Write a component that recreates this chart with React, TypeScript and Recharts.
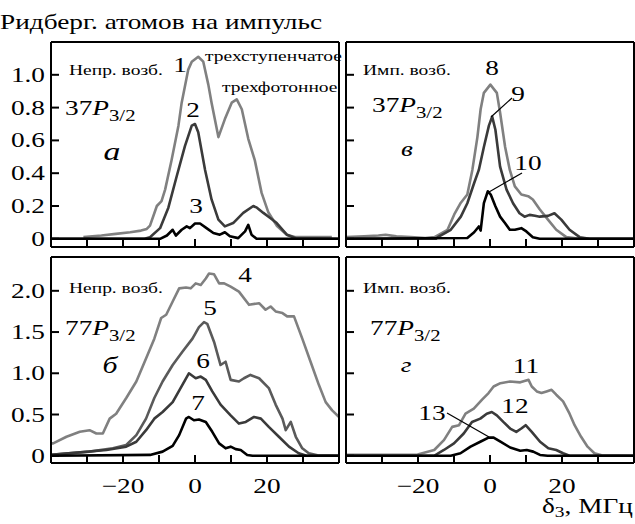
import { LineChart, Line, XAxis, YAxis } from 'recharts'

const FONT = '"Liberation Serif", "Times New Roman", serif'
const SX = 1.3
const LIGHT = '#808080'
const MID = '#5a5a5a'
const DARK = '#3a3a3a'
const BLACK = '#000000'

const X_DOMAIN: [number, number] = [-40, 40]
const X_TICKS = [-30, -20, -10, 0, 10, 20, 30]
const X_LABELS = [-20, 0, 20]
const Y_TICKS_TOP = [0, 0.2, 0.4, 0.6, 0.8, 1.0]
const Y_TICKS_BOTTOM = [0, 0.5, 1.0, 1.5, 2.0]

// panel a: 37P3/2, непрерывное возбуждение
const c1X = [-31, -26, -22, -18, -15, -13.4, -12.5, -10.6, -9.3, -8.3, -6.5, -4.6, -3.7, -1.9, -0.9, 0.9, 2.3, 3.7, 4.6, 6.5, 8.3, 10.2, 11.6, 13, 14.8, 16.6, 18.5, 20.4, 22.7, 25.5, 28, 33, 38]
const c1Y = [0.01, 0.02, 0.03, 0.04, 0.05, 0.06, 0.08, 0.2, 0.23, 0.3, 0.48, 0.69, 0.83, 1.03, 1.08, 1.11, 1.08, 0.94, 0.83, 0.62, 0.73, 0.83, 0.85, 0.79, 0.61, 0.48, 0.28, 0.16, 0.08, 0.025, 0.01, 0.01, 0.01]
const c2X = [-40, -14, -12.5, -9.7, -7.4, -5.1, -2.8, -0.9, 0, 0.9, 2.8, 4.6, 6.5, 8.3, 10.6, 13.4, 16.2, 17.2, 19, 20.8, 22.7, 25.5, 28, 40]
const c2Y = [0, 0, 0.01, 0.065, 0.19, 0.38, 0.565, 0.69, 0.7, 0.65, 0.42, 0.24, 0.117, 0.076, 0.096, 0.158, 0.2, 0.19, 0.158, 0.128, 0.096, 0.025, 0.003, 0]
const c3X = [-40, -9.7, -7.8, -6.2, -5.3, -3.7, -2.3, -1.4, 0, 1.4, 3.2, 5.1, 6.9, 8.3, 9.7, 12, 13.9, 14.8, 15.7, 17.1, 40]
const c3Y = [0, 0, 0.02, 0.055, 0.02, 0.055, 0.076, 0.065, 0.093, 0.093, 0.065, 0.035, 0.025, 0.04, 0.015, 0.004, 0.045, 0.085, 0.025, 0, 0]

// panel в: 37P3/2, импульсное возбуждение
const c8X = [-40, -35, -31, -29, -26, -22, -18, -15.4, -11.8, -9.9, -8.1, -6.3, -4.9, -3.5, -2.6, -1.7, 0.1, 1.9, 2.8, 4.2, 5.5, 6.9, 8.7, 10.6, 11.9, 13.8, 16.1, 18.4, 21.2, 25, 40]
const c8Y = [0.01, 0.015, 0.02, 0.025, 0.015, 0.01, 0.005, 0.01, 0.055, 0.15, 0.22, 0.27, 0.42, 0.62, 0.79, 0.89, 0.94, 0.89, 0.77, 0.56, 0.42, 0.32, 0.27, 0.26, 0.24, 0.18, 0.117, 0.055, 0.01, 0, 0]
const c9X = [-40, -15, -14.5, -10.9, -8.1, -6.3, -4.4, -3.1, -1.7, -0.3, 0.6, 1.5, 2.8, 4.6, 6.4, 8.2, 9.6, 11, 12.5, 13.8, 16.1, 17.9, 19.8, 22.1, 24.9, 27.7, 40]
const c9Y = [0, 0, 0.01, 0.055, 0.135, 0.217, 0.34, 0.42, 0.56, 0.69, 0.745, 0.665, 0.44, 0.3, 0.217, 0.156, 0.135, 0.146, 0.14, 0.135, 0.14, 0.156, 0.117, 0.055, 0.01, 0, 0]
const c10X = [-40, -6.3, -4.4, -3.1, -2.6, -1.7, -0.6, 0.2, 1.5, 2.8, 4.2, 5.5, 6.9, 8.7, 10.1, 11.9, 13.8, 40]
const c10Y = [0, 0.005, 0.04, 0.075, 0.05, 0.217, 0.29, 0.27, 0.198, 0.135, 0.095, 0.055, 0.055, 0.065, 0.045, 0.01, 0, 0]

// panel б: 77P3/2, непрерывное возбуждение
const c4X = [-40, -39.4, -35.7, -32, -29.3, -27.4, -25.6, -23.7, -21.9, -19.1, -16.3, -13.6, -11.3, -9.4, -8, -6.2, -4.4, -2.5, -1.2, 0.2, 1.6, 3, 3.9, 5.3, 6.7, 8.1, 9.9, 12.2, 15, 17.8, 19.6, 21, 22.4, 24.3, 25.6, 27.5, 29.8, 32.1, 34.4, 36.3, 38.1, 40]
const c4Y = [0.15, 0.15, 0.23, 0.29, 0.31, 0.27, 0.27, 0.45, 0.51, 0.7, 0.9, 1.18, 1.42, 1.67, 1.71, 1.87, 2.03, 2.04, 2.03, 2.09, 2.07, 2.15, 2.21, 2.2, 2.09, 2.09, 2.05, 1.99, 1.83, 1.85, 1.77, 1.81, 1.75, 1.73, 1.69, 1.69, 1.42, 1.14, 0.86, 0.65, 0.55, 0.47]
const c5X = [-40, -29.3, -22.8, -19.1, -16.3, -13.6, -11.3, -9, -6.2, -3.5, -0.7, 1.1, 2.5, 3.4, 5.3, 7.1, 8.5, 9.9, 12.2, 13.6, 15.4, 17.8, 20.5, 22.4, 24.3, 25.2, 26.6, 28, 29.8, 31.6, 34, 40]
const c5Y = [0.01, 0.05, 0.09, 0.13, 0.25, 0.45, 0.7, 0.9, 1.1, 1.26, 1.42, 1.56, 1.62, 1.6, 1.38, 1.1, 1.14, 0.92, 0.9, 0.94, 0.98, 0.94, 0.82, 0.62, 0.45, 0.31, 0.41, 0.23, 0.09, 0.03, 0.005, 0]
const c6X = [-40, -24.6, -19.1, -16.3, -13.6, -11.3, -9, -6.2, -3.5, -1.7, 0.2, 1.6, 3, 4.8, 7.1, 9.9, 12.2, 14.1, 16.4, 18.3, 20.5, 23.3, 26.1, 28.8, 31, 40]
const c6Y = [0.01, 0.07, 0.11, 0.17, 0.31, 0.45, 0.53, 0.65, 0.86, 1.0, 0.94, 0.96, 0.92, 0.78, 0.62, 0.49, 0.39, 0.41, 0.47, 0.45, 0.35, 0.23, 0.11, 0.03, 0, 0]
const c7X = [-40, -12.5, -9, -6.2, -4.4, -2.5, -1.7, -0.3, 1.1, 3, 4.8, 6.7, 8.5, 9.9, 11.3, 12.7, 14.5, 16, 40]
const c7Y = [0, 0.01, 0.05, 0.12, 0.25, 0.45, 0.47, 0.43, 0.44, 0.41, 0.29, 0.15, 0.09, 0.11, 0.08, 0.07, 0.01, 0, 0]

// panel г: 77P3/2, импульсное возбуждение
const c11X = [-40, -25, -20.1, -15.5, -12.8, -10.5, -8.6, -6.8, -4.5, -2.2, -0.4, 1, 2.9, 5.6, 8.4, 9.8, 10.7, 11.6, 13, 14.3, 15.7, 17.1, 18.4, 20.3, 22.1, 23.5, 25.3, 27.1, 29, 31, 40]
const c11Y = [0.01, 0.01, 0.015, 0.07, 0.19, 0.35, 0.37, 0.51, 0.57, 0.68, 0.76, 0.84, 0.88, 0.9, 0.89, 0.91, 0.92, 0.84, 0.78, 0.76, 0.78, 0.8, 0.74, 0.66, 0.51, 0.37, 0.23, 0.11, 0.03, 0.005, 0]
const c12X = [-40, -15.5, -12.8, -10, -7.3, -5, -2.7, -0.9, 0.5, 1.9, 3.7, 5.6, 7.3, 8.7, 9.9, 11.6, 13.9, 16.2, 18.4, 20.3, 22.1, 40]
const c12Y = [0, 0, 0.07, 0.15, 0.27, 0.41, 0.45, 0.51, 0.53, 0.49, 0.41, 0.33, 0.29, 0.33, 0.37, 0.29, 0.17, 0.09, 0.07, 0.03, 0, 0]
const c13X = [-40, -10.9, -8.2, -5.4, -2.7, -0.4, 1, 2.9, 5.6, 8.4, 10.2, 12, 13.9, 16, 40]
const c13Y = [0, 0, 0.03, 0.11, 0.17, 0.22, 0.22, 0.17, 0.1, 0.06, 0.07, 0.05, 0.01, 0, 0]

const zip = (xs: number[], ys: number[]) => xs.map((x, i) => ({ x, y: ys[i] }))

type Series = { xs: number[]; ys: number[]; color: string }

const fmtY = (v: number) => (v === 0 ? '0' : v.toFixed(1))
const fmtX = (v: number) => (v < 0 ? '\u2212' + Math.abs(v) : String(v))

function LeftTick(props: any) {
  const { x, y, payload, showLabel } = props
  return (
    <g>
      <line x1={x} x2={x + 8} y1={y} y2={y} stroke="#000" strokeWidth={2} />
      {showLabel ? (
        <text
          transform={`translate(${x - 6},${y + 7}) scale(${SX},1)`}
          textAnchor="end"
          fontSize={21}
          fontFamily={FONT}
          fill="#000"
        >
          {fmtY(payload.value)}
        </text>
      ) : null}
    </g>
  )
}

function RightTick(props: any) {
  const { x, y } = props
  return <line x1={x} x2={x - 8} y1={y} y2={y} stroke="#000" strokeWidth={2} />
}

function TopTick(props: any) {
  const { x, y } = props
  return <line x1={x} x2={x} y1={y} y2={y + 8} stroke="#000" strokeWidth={2} />
}

function BottomTick(props: any) {
  const { x, y, payload, showLabel } = props
  const v = payload.value
  return (
    <g>
      <line x1={x} x2={x} y1={y} y2={y - 8} stroke="#000" strokeWidth={2} />
      {showLabel && X_LABELS.includes(v) ? (
        <text
          transform={`translate(${x},${y + 30}) scale(${SX},1)`}
          textAnchor="middle"
          fontSize={21}
          fontFamily={FONT}
          fill="#000"
        >
          {fmtX(v)}
        </text>
      ) : null}
    </g>
  )
}

type PanelProps = {
  left: number
  top: number
  width: number
  height: number
  leftW: number
  rightW: number
  topH: number
  bottomH: number
  yDomain: [number, number]
  yTicks: number[]
  yLabels: boolean
  xLabels: boolean
  series: Series[]
}

function Panel(p: PanelProps) {
  return (
    <div style={{ position: 'absolute', left: p.left, top: p.top }}>
      <LineChart width={p.width} height={p.height} margin={{ top: 0, right: 0, bottom: 0, left: 0 }}>
        <XAxis
          xAxisId="b"
          type="number"
          dataKey="x"
          domain={X_DOMAIN}
          ticks={X_TICKS}
          interval={0}
          height={p.bottomH}
          tickSize={0}
          tickMargin={0}
          tickLine={false}
          axisLine={{ stroke: '#000', strokeWidth: 2 }}
          tick={(t: any) => <BottomTick {...t} showLabel={p.xLabels} />}
        />
        <XAxis
          xAxisId="t"
          orientation="top"
          type="number"
          dataKey="x"
          domain={X_DOMAIN}
          ticks={X_TICKS}
          interval={0}
          height={p.topH}
          tickSize={0}
          tickMargin={0}
          tickLine={false}
          axisLine={{ stroke: '#000', strokeWidth: 2 }}
          tick={(t: any) => <TopTick {...t} />}
        />
        <YAxis
          yAxisId="l"
          type="number"
          dataKey="y"
          domain={p.yDomain}
          ticks={p.yTicks}
          interval={0}
          width={p.leftW}
          tickSize={0}
          tickMargin={0}
          tickLine={false}
          axisLine={{ stroke: '#000', strokeWidth: 2 }}
          tick={(t: any) => <LeftTick {...t} showLabel={p.yLabels} />}
        />
        <YAxis
          yAxisId="r"
          orientation="right"
          type="number"
          dataKey="y"
          domain={p.yDomain}
          ticks={p.yTicks}
          interval={0}
          width={p.rightW}
          tickSize={0}
          tickMargin={0}
          tickLine={false}
          axisLine={{ stroke: '#000', strokeWidth: 2 }}
          tick={(t: any) => <RightTick {...t} />}
        />
        {p.series.map((s, i) => (
          <Line
            key={i}
            xAxisId="b"
            yAxisId="l"
            data={zip(s.xs, s.ys)}
            dataKey="y"
            type="linear"
            stroke={s.color}
            strokeWidth={2.6}
            strokeLinejoin="round"
            dot={false}
            activeDot={false}
            isAnimationActive={false}
          />
        ))}
      </LineChart>
    </div>
  )
}

function Txt(props: { x: number; y: number; size?: number; anchor?: 'start' | 'middle' | 'end'; italic?: boolean; children: any }) {
  const { x, y, size = 21, anchor = 'start', italic, children } = props
  return (
    <text
      transform={`translate(${x},${y}) scale(${SX},1)`}
      textAnchor={anchor}
      fontSize={size}
      fontFamily={FONT}
      fontStyle={italic ? 'italic' : 'normal'}
      fill="#000"
    >
      {children}
    </text>
  )
}

function State(props: { x: number; y: number; n: string }) {
  return (
    <Txt x={props.x} y={props.y}>
      <tspan>{props.n}</tspan>
      <tspan fontStyle="italic">P</tspan>
      <tspan fontSize={16} dy={6}>3/2</tspan>
    </Txt>
  )
}

const TOP_DOMAIN: [number, number] = [-0.05, 1.2]
const BOTTOM_DOMAIN: [number, number] = [-0.088, 2.41]

export default function App() {
  return (
    <div style={{ position: 'absolute', left: 0, top: 0, width: 635, height: 524, background: '#fff' }}>
      <Panel
        left={0} top={30} width={342} height={222}
        leftW={51} rightW={3} topH={12} bottomH={5}
        yDomain={TOP_DOMAIN} yTicks={Y_TICKS_TOP} yLabels xLabels={false}
        series={[
          { xs: c1X, ys: c1Y, color: LIGHT },
          { xs: c2X, ys: c2Y, color: DARK },
          { xs: c3X, ys: c3Y, color: BLACK },
        ]}
      />
      <Panel
        left={342} top={30} width={293} height={222}
        leftW={4} rightW={1} topH={12} bottomH={5}
        yDomain={TOP_DOMAIN} yTicks={Y_TICKS_TOP} yLabels={false} xLabels={false}
        series={[
          { xs: c8X, ys: c8Y, color: LIGHT },
          { xs: c9X, ys: c9Y, color: DARK },
          { xs: c10X, ys: c10Y, color: BLACK },
        ]}
      />
      <Panel
        left={0} top={252} width={342} height={272}
        leftW={51} rightW={3} topH={5} bottomH={61}
        yDomain={BOTTOM_DOMAIN} yTicks={Y_TICKS_BOTTOM} yLabels xLabels
        series={[
          { xs: c4X, ys: c4Y, color: LIGHT },
          { xs: c5X, ys: c5Y, color: MID },
          { xs: c6X, ys: c6Y, color: DARK },
          { xs: c7X, ys: c7Y, color: BLACK },
        ]}
      />
      <Panel
        left={342} top={252} width={293} height={272}
        leftW={4} rightW={1} topH={5} bottomH={61}
        yDomain={BOTTOM_DOMAIN} yTicks={Y_TICKS_BOTTOM} yLabels={false} xLabels
        series={[
          { xs: c11X, ys: c11Y, color: LIGHT },
          { xs: c12X, ys: c12Y, color: DARK },
          { xs: c13X, ys: c13Y, color: BLACK },
        ]}
      />
      <svg width={635} height={524} style={{ position: 'absolute', left: 0, top: 0, pointerEvents: 'none' }}>
        <Txt x={0} y={29}>Ридберг. атомов на импульс</Txt>

        <Txt x={69} y={75} size={15}>Непр. возб.</Txt>
        <State x={65} y={115} n="37" />
        <Txt x={112} y={160} anchor="middle" size={26} italic>а</Txt>
        <Txt x={180} y={72} anchor="middle">1</Txt>
        <Txt x={205} y={61} size={15}>трехступенчатое</Txt>
        <Txt x={222} y={92} size={15}>трехфотонное</Txt>
        <Txt x={193} y={117} anchor="middle">2</Txt>
        <Txt x={196} y={213} anchor="middle">3</Txt>

        <Txt x={363} y={75} size={15}>Имп. возб.</Txt>
        <State x={372} y={112} n="37" />
        <Txt x={407} y={156} anchor="middle" italic>в</Txt>
        <Txt x={492} y={75} anchor="middle">8</Txt>
        <Txt x={518} y={101} anchor="middle">9</Txt>
        <Txt x={528} y={170} anchor="middle">10</Txt>
        <line x1={512} y1={98} x2={491} y2={117} stroke="#000" strokeWidth={1.2} />
        <line x1={522} y1={173} x2={489} y2={192} stroke="#000" strokeWidth={1.2} />

        <Txt x={69} y={293} size={15}>Непр. возб.</Txt>
        <State x={65} y={335} n="77" />
        <Txt x={110} y={373} anchor="middle" size={23} italic>б</Txt>
        <Txt x={245} y={282} anchor="middle">4</Txt>
        <Txt x={210} y={315} anchor="middle">5</Txt>
        <Txt x={203} y={368} anchor="middle">6</Txt>
        <Txt x={198} y={410} anchor="middle">7</Txt>

        <Txt x={363} y={293} size={15}>Имп. возб.</Txt>
        <State x={370} y={335} n="77" />
        <Txt x={406} y={372} anchor="middle" italic>г</Txt>
        <Txt x={526} y={373} anchor="middle">11</Txt>
        <Txt x={515} y={413} anchor="middle">12</Txt>
        <Txt x={432} y={420} anchor="middle">13</Txt>
        <line x1={447} y1={413} x2={489} y2={437} stroke="#000" strokeWidth={1.2} />

        <Txt x={542} y={513}>
          <tspan>δ</tspan>
          <tspan fontSize={15} dy={4}>3</tspan>
          <tspan dy={-4}>, МГц</tspan>
        </Txt>
      </svg>
    </div>
  )
}
